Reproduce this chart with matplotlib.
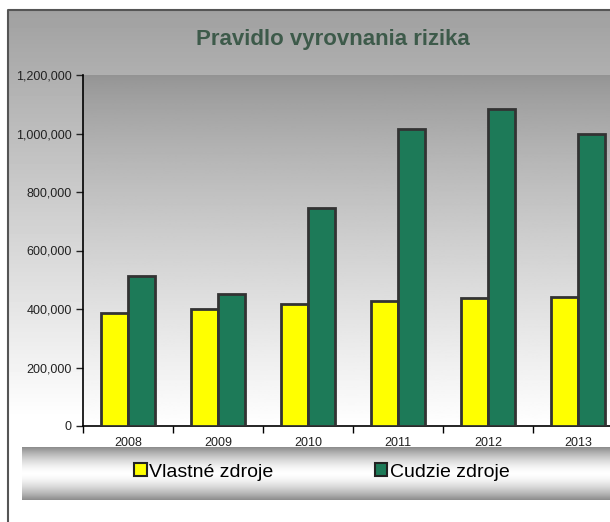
import numpy as np
import matplotlib.pyplot as plt
from matplotlib.patches import Patch
from matplotlib.ticker import FuncFormatter

years = ['2008', '2009', '2010', '2011', '2012', '2013']
vlastne = [385000, 399000, 417000, 428000, 437000, 442000]
cudzie = [514000, 450000, 745000, 1015000, 1084000, 998000]
series_names = ['Vlastné zdroje', 'Cudzie zdroje']
colors = ['#ffff00', '#1d7a58']

W, H = 610, 522
plt.rcParams['font.family'] = ['Liberation Sans', 'DejaVu Sans']
fig = plt.figure(figsize=(W / 100, H / 100), dpi=100)

# background layer in pixel coordinates
bg = fig.add_axes([0, 0, 1, 1], zorder=-10)
bg.set_xlim(0, W)
bg.set_ylim(H, 0)
bg.axis('off')

# chart area: grey at top fading to white
grad = np.linspace(0, 1, 256).reshape(-1, 1)
top, bottom = 0.63, 1.0
chart = top + (bottom - top) * np.clip(grad * 1.25, 0, 1)
bg.imshow(chart, cmap='gray', vmin=0, vmax=1, extent=[8, W, 522, 10],
          aspect='auto', origin='upper')
bg.plot([8, 8, W], [H, 10, 10], color='#555555', lw=1.5)

# metallic legend band
t = np.linspace(-1, 1, 128).reshape(-1, 1)
band = 1.0 - 0.45 * np.abs(t) ** 1.6
bg.imshow(band, cmap='gray', vmin=0, vmax=1, extent=[22, W, 500, 447],
          aspect='auto', origin='upper')

# main plot
x0, y0 = 83, 426
ax = fig.add_axes([x0 / W, 1 - y0 / H, 540 / W, 351 / H])
ax.set_facecolor('none')
pg = 0.58 + 0.42 * np.linspace(0, 1, 256).reshape(-1, 1) ** 0.8
ax.imshow(pg, cmap='gray', vmin=0, vmax=1, extent=[0, 1, 0, 1],
          transform=ax.transAxes, aspect='auto', origin='upper', zorder=0)

x = np.arange(len(years))
w = 0.3
ax.bar(x - w / 2, vlastne, w, color=colors[0], edgecolor='#333333', lw=2, zorder=3)
ax.bar(x + w / 2, cudzie, w, color=colors[1], edgecolor='#333333', lw=2, zorder=3)

ax.set_xlim(-0.5, len(years) - 0.5)
ax.set_ylim(0, 1200000)
ax.set_yticks(np.arange(0, 1200001, 200000))
ax.yaxis.set_major_formatter(FuncFormatter(lambda v, p: f'{int(v):,}'))
ax.set_xticks(np.arange(-0.5, len(years), 1))
ax.set_xticklabels([])
ax.set_xticks(x, minor=True)
ax.set_xticklabels(years, minor=True)
ax.tick_params(axis='x', which='minor', length=0, pad=8, labelsize=9, colors='#222222')
ax.tick_params(axis='x', which='major', length=5, width=1)
ax.tick_params(axis='y', length=5, width=1, labelsize=9, pad=3, colors='#222222')
for s in ['top', 'right']:
    ax.spines[s].set_visible(False)
for s in ['left', 'bottom']:
    ax.spines[s].set_linewidth(1.2)

fig.text(333 / W, 1 - 40 / H, 'Pravidlo vyrovnania rizika', ha='center', va='center',
         fontsize=16, fontweight='bold', color='#3d5a4a')

handles = [Patch(facecolor=c, edgecolor='#222222', lw=1.5) for c in colors]
fig.legend(handles, series_names, loc='center', bbox_to_anchor=(322 / W, 1 - 472 / H),
           ncol=2, frameon=False, fontsize=14, columnspacing=5.2,
           handlelength=0.65, handleheight=0.65, handletextpad=0.15)

fig.savefig('out.png', dpi=100)
